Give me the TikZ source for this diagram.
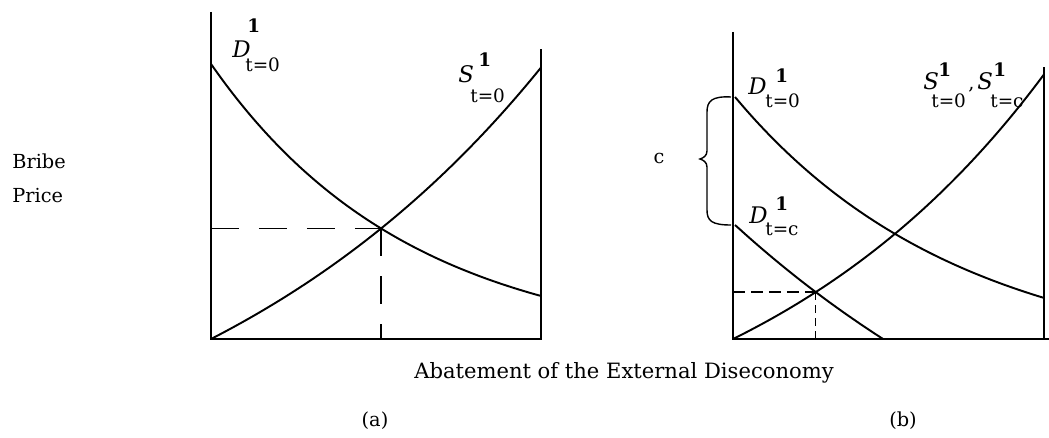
\documentclass[tikz,border=0pt]{standalone}
\usepackage{fontspec}
\setmainfont{DejaVu Serif}
\usetikzlibrary{intersections}

\tikzset{
  axisline/.style={line width=1.5pt},
  curveline/.style={line width=1.1pt},
  guide/.style={line width=0.9pt, dash pattern=on 0.56cm off 0.4cm},
  guidefine/.style={line width=0.9pt, dash pattern=on 0.24cm off 0.12cm},
  guidetiny/.style={line width=0.8pt, dash pattern=on 0.16cm off 0.1cm},
  txt/.style={inner sep=0pt, font=\fontsize{11}{13}\selectfont},
  lab/.style={inner sep=0pt, anchor=base west, font=\fontsize{13}{15}\selectfont\itshape},
  supl/.style={inner sep=0pt, anchor=base west, font=\fontsize{10.5}{12}\selectfont\bfseries},
  subl/.style={inner sep=0pt, anchor=base west, font=\fontsize{10.5}{12}\selectfont},
}

\begin{document}
\begin{tikzpicture}[x=0.02cm, y=0.02cm]
  \useasboundingbox (0,0) rectangle (1049,437);

  % panel (a)
  \coordinate (oA) at (211,98);
  \draw[axisline] (211,425) -- (oA) -- (541,98) -- (541,388);
  \draw[curveline, name path=dA] plot[domain=211:541, samples=60, smooth] (\x, {373-287*(1-exp(-0.005004*(\x-211)))});
  \draw[curveline, name path=sA] plot[domain=211:541, samples=60, smooth] (\x, {98+193.7*(exp(0.002649*(\x-211))-1)});
  \path[name intersections={of=dA and sA, by=eqA}];
  \draw[guide] (oA |- eqA) -- (eqA);
  \draw[guide] (eqA) -- (eqA |- oA);

  \node[lab] (dAl) at (232,379) {D};
  \node[supl] (dAs) at (247,404) {1};
  \node[subl] (dAt) at (245,365) {t=0};
  \node[lab] (sAl) at (458,355) {S};
  \node[supl] (sAs) at (478,370) {1};
  \node[subl] (sAt) at (470,335) {t=0};

  % panel (b)
  \coordinate (oB) at (733,98);
  \draw[axisline] (733,405) -- (oB) -- (1049,98);
  \draw[axisline] (1044,98) -- (1044,370);
  \draw[curveline] plot[domain=735:1044, samples=60, smooth] (\x, {340-269.2*(1-exp(-0.004446*(\x-735)))});
  \draw[curveline, name path=dcB] plot[domain=735:883, samples=40, smooth] (\x, {212-384*(1-exp(-0.002376*(\x-735)))});
  \draw[curveline, name path=sB] plot[domain=733:1044, samples=60, smooth] (\x, {98+153.7*(exp(0.003214*(\x-733))-1)});
  \path[name intersections={of=dcB and sB, by=eqB}];
  \draw[guidefine] (oB |- eqB) -- (eqB);
  \draw[guidetiny] (eqB) -- (eqB |- oB);

  % brace for c
  \draw[line width=0.8pt] (731,340) .. controls (712,341) and (707,336) .. (707,325)
    -- (707,286) .. controls (707,281) and (703,279) .. (700,278)
    .. controls (703,277) and (707,275) .. (707,270)
    -- (707,227) .. controls (707,216) and (712,212) .. (731,212);
  \node[txt] (cost) at (659,279) {c};

  \node[lab] (dBl) at (748,342) {D};
  \node[supl] (dBs) at (775,355) {1};
  \node[subl] (dBt) at (765,330) {t=0};
  \node[lab] (dCl) at (749,214) {D};
  \node[supl] (dCs) at (775,227) {1};
  \node[subl] (dCt) at (765,202) {t=c};
  \node[lab] (sBl) at (923,347) {S};
  \node[supl] (sBs) at (938,360) {1};
  \node[subl] (sBt) at (931,330) {t=0};
  \node[txt, anchor=base west] (comma) at (968,347) {,};
  \node[lab] (sCl) at (977,347) {S};
  \node[supl] (sCs) at (993,360) {1};
  \node[subl] (sCt) at (990,330) {t=c};

  % axis titles
  \node[txt, anchor=base west] (bribe) at (12,269) {Bribe};
  \node[txt, anchor=base west] (price) at (12,235) {Price};
  \node[txt, anchor=base, font=\fontsize{12}{14}\selectfont] (abate) at (624,59) {Abatement of the External Diseconomy};
  \node[txt] (capA) at (375,16) {(a)};
  \node[txt] (capB) at (903,16) {(b)};
\end{tikzpicture}
\end{document}
